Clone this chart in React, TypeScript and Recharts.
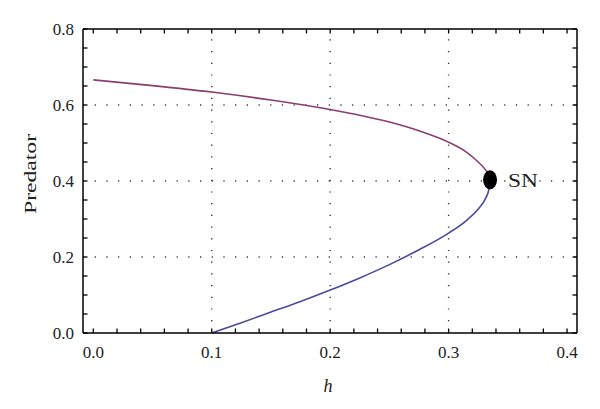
import {
  ComposedChart,
  Line,
  Scatter,
  XAxis,
  YAxis,
  ReferenceLine,
} from "recharts"

// Saddle-node diagram: predator equilibrium against h
const upperH = [0, 0.05, 0.1, 0.15, 0.2, 0.225, 0.25, 0.275, 0.3, 0.315, 0.325, 0.331, 0.334, 0.335]
const upperP = [0.666, 0.651, 0.634, 0.613, 0.588, 0.573, 0.555, 0.532, 0.502, 0.476, 0.45, 0.43, 0.415, 0.403]
const lowerH = [0.1, 0.125, 0.15, 0.175, 0.2, 0.225, 0.25, 0.275, 0.3, 0.315, 0.325, 0.331, 0.334, 0.335]
const lowerP = [0, 0.027, 0.055, 0.083, 0.113, 0.145, 0.18, 0.219, 0.263, 0.296, 0.326, 0.353, 0.378, 0.403]
const snPoint = [{ h: 0.335, y: 0.403, name: "SN" }]

const xTicks = [0, 0.02, 0.04, 0.06, 0.08, 0.1, 0.12, 0.14, 0.16, 0.18, 0.2, 0.22, 0.24, 0.26, 0.28, 0.3, 0.32, 0.34, 0.36, 0.38, 0.4]
const xLabels = [0, 0.1, 0.2, 0.3, 0.4]
const yTicks = [0, 0.05, 0.1, 0.15, 0.2, 0.25, 0.3, 0.35, 0.4, 0.45, 0.5, 0.55, 0.6, 0.65, 0.7, 0.75, 0.8]
const yLabels = [0, 0.2, 0.4, 0.6, 0.8]
const gridX = [0.1, 0.2, 0.3]
const gridY = [0.2, 0.4, 0.6]

const upper = upperH.map((h, i) => ({ h, y: upperP[i] }))
const lower = lowerH.map((h, i) => ({ h, y: lowerP[i] }))

const COLOR_UPPER = "#8A3D6F"
const COLOR_LOWER = "#4A4AA0"
const FONT = "'Liberation Serif', 'Times New Roman', serif"
const TICK_LEN = 4.5

const isLabel = (v: number, list: number[]) => list.some((l) => Math.abs(l - v) < 1e-9)

function XTick(props: any) {
  const { x, y, payload, side } = props
  const dir = side === "bottom" ? -1 : 1
  return (
    <g>
      <line x1={x} x2={x} y1={y} y2={y + dir * TICK_LEN} stroke="#000" strokeWidth={1.3} />
      {side === "bottom" && isLabel(payload.value, xLabels) && (
        <text x={x} y={y + 25} textAnchor="middle" fontFamily={FONT} fontSize={17} fill="#222">
          {payload.value.toFixed(1)}
        </text>
      )}
    </g>
  )
}

function YTick(props: any) {
  const { x, y, payload, side } = props
  const dir = side === "left" ? 1 : -1
  return (
    <g>
      <line x1={x} x2={x + dir * TICK_LEN} y1={y} y2={y} stroke="#000" strokeWidth={1.3} />
      {side === "left" && isLabel(payload.value, yLabels) && (
        <text x={x - 9} y={y + 6} textAnchor="end" fontFamily={FONT} fontSize={17} fill="#222">
          {payload.value.toFixed(1)}
        </text>
      )}
    </g>
  )
}

function SnMarker(props: any) {
  const { cx, cy, payload } = props
  return (
    <g>
      <ellipse cx={cx} cy={cy} rx={7} ry={9.5} fill="#000" />
      <text
        x={cx + 18}
        y={cy + 7}
        fontFamily={FONT}
        fontSize={18}
        fill="#222"
        textLength={30}
        lengthAdjust="spacingAndGlyphs"
      >
        {payload.name}
      </text>
    </g>
  )
}

export default function App() {
  const xDomain = [-0.0087, 0.4084]
  return (
    <div style={{ position: "absolute", left: 0, top: 0, background: "#fff" }}>
      <ComposedChart width={600} height={409} margin={{ top: 0, right: 0, bottom: 0, left: 0 }}>
        <XAxis
          xAxisId="b"
          dataKey="h"
          type="number"
          orientation="bottom"
          domain={xDomain}
          allowDataOverflow
          ticks={xTicks}
          interval={0}
          height={76}
          tickSize={0}
          tickMargin={0}
          tickLine={false}
          axisLine={{ stroke: "#000", strokeWidth: 1.5 }}
          tick={<XTick side="bottom" />}
          label={{
            content: () => (
              <text x={328} y={392} textAnchor="middle" fontFamily={FONT} fontSize={18} fontStyle="italic" fill="#222">
                h
              </text>
            ),
          }}
        />
        <XAxis
          xAxisId="t"
          dataKey="h"
          type="number"
          orientation="top"
          domain={xDomain}
          allowDataOverflow
          ticks={xTicks}
          interval={0}
          height={29}
          tickSize={0}
          tickMargin={0}
          tickLine={false}
          axisLine={{ stroke: "#000", strokeWidth: 1.5 }}
          tick={<XTick side="top" />}
        />
        <YAxis
          yAxisId="l"
          type="number"
          orientation="left"
          domain={[0, 0.8]}
          allowDataOverflow
          ticks={yTicks}
          interval={0}
          width={83}
          tickSize={0}
          tickMargin={0}
          tickLine={false}
          axisLine={{ stroke: "#000", strokeWidth: 1.5 }}
          tick={<YTick side="left" />}
          label={{
            content: () => (
              <text
                transform="translate(36,174) rotate(-90)"
                x={0}
                y={0}
                textAnchor="middle"
                fontFamily={FONT}
                fontSize={17}
                fill="#222"
                textLength={80}
                lengthAdjust="spacingAndGlyphs"
              >
                Predator
              </text>
            ),
          }}
        />
        <YAxis
          yAxisId="r"
          type="number"
          orientation="right"
          domain={[0, 0.8]}
          allowDataOverflow
          ticks={yTicks}
          interval={0}
          width={23}
          tickSize={0}
          tickMargin={0}
          tickLine={false}
          axisLine={{ stroke: "#000", strokeWidth: 1.5 }}
          tick={<YTick side="right" />}
        />

        {gridX.map((v) => (
          <ReferenceLine
            key={`gx${v}`}
            x={v}
            xAxisId="b"
            yAxisId="l"
            stroke="#333"
            strokeWidth={1.4}
            strokeDasharray="1.2 10.5"
          />
        ))}
        {gridY.map((v) => (
          <ReferenceLine
            key={`gy${v}`}
            y={v}
            xAxisId="b"
            yAxisId="l"
            stroke="#333"
            strokeWidth={1.4}
            strokeDasharray="1.2 10.5"
          />
        ))}

        <Line
          data={upper}
          xAxisId="b"
          yAxisId="l"
          dataKey="y"
          type="monotone"
          stroke={COLOR_UPPER}
          strokeWidth={1.6}
          dot={false}
          activeDot={false}
          isAnimationActive={false}
        />
        <Line
          data={lower}
          xAxisId="b"
          yAxisId="l"
          dataKey="y"
          type="monotone"
          stroke={COLOR_LOWER}
          strokeWidth={1.6}
          dot={false}
          activeDot={false}
          isAnimationActive={false}
        />
        <Scatter
          data={snPoint}
          xAxisId="b"
          yAxisId="l"
          dataKey="y"
          shape={<SnMarker />}
          isAnimationActive={false}
        />
      </ComposedChart>
    </div>
  )
}
